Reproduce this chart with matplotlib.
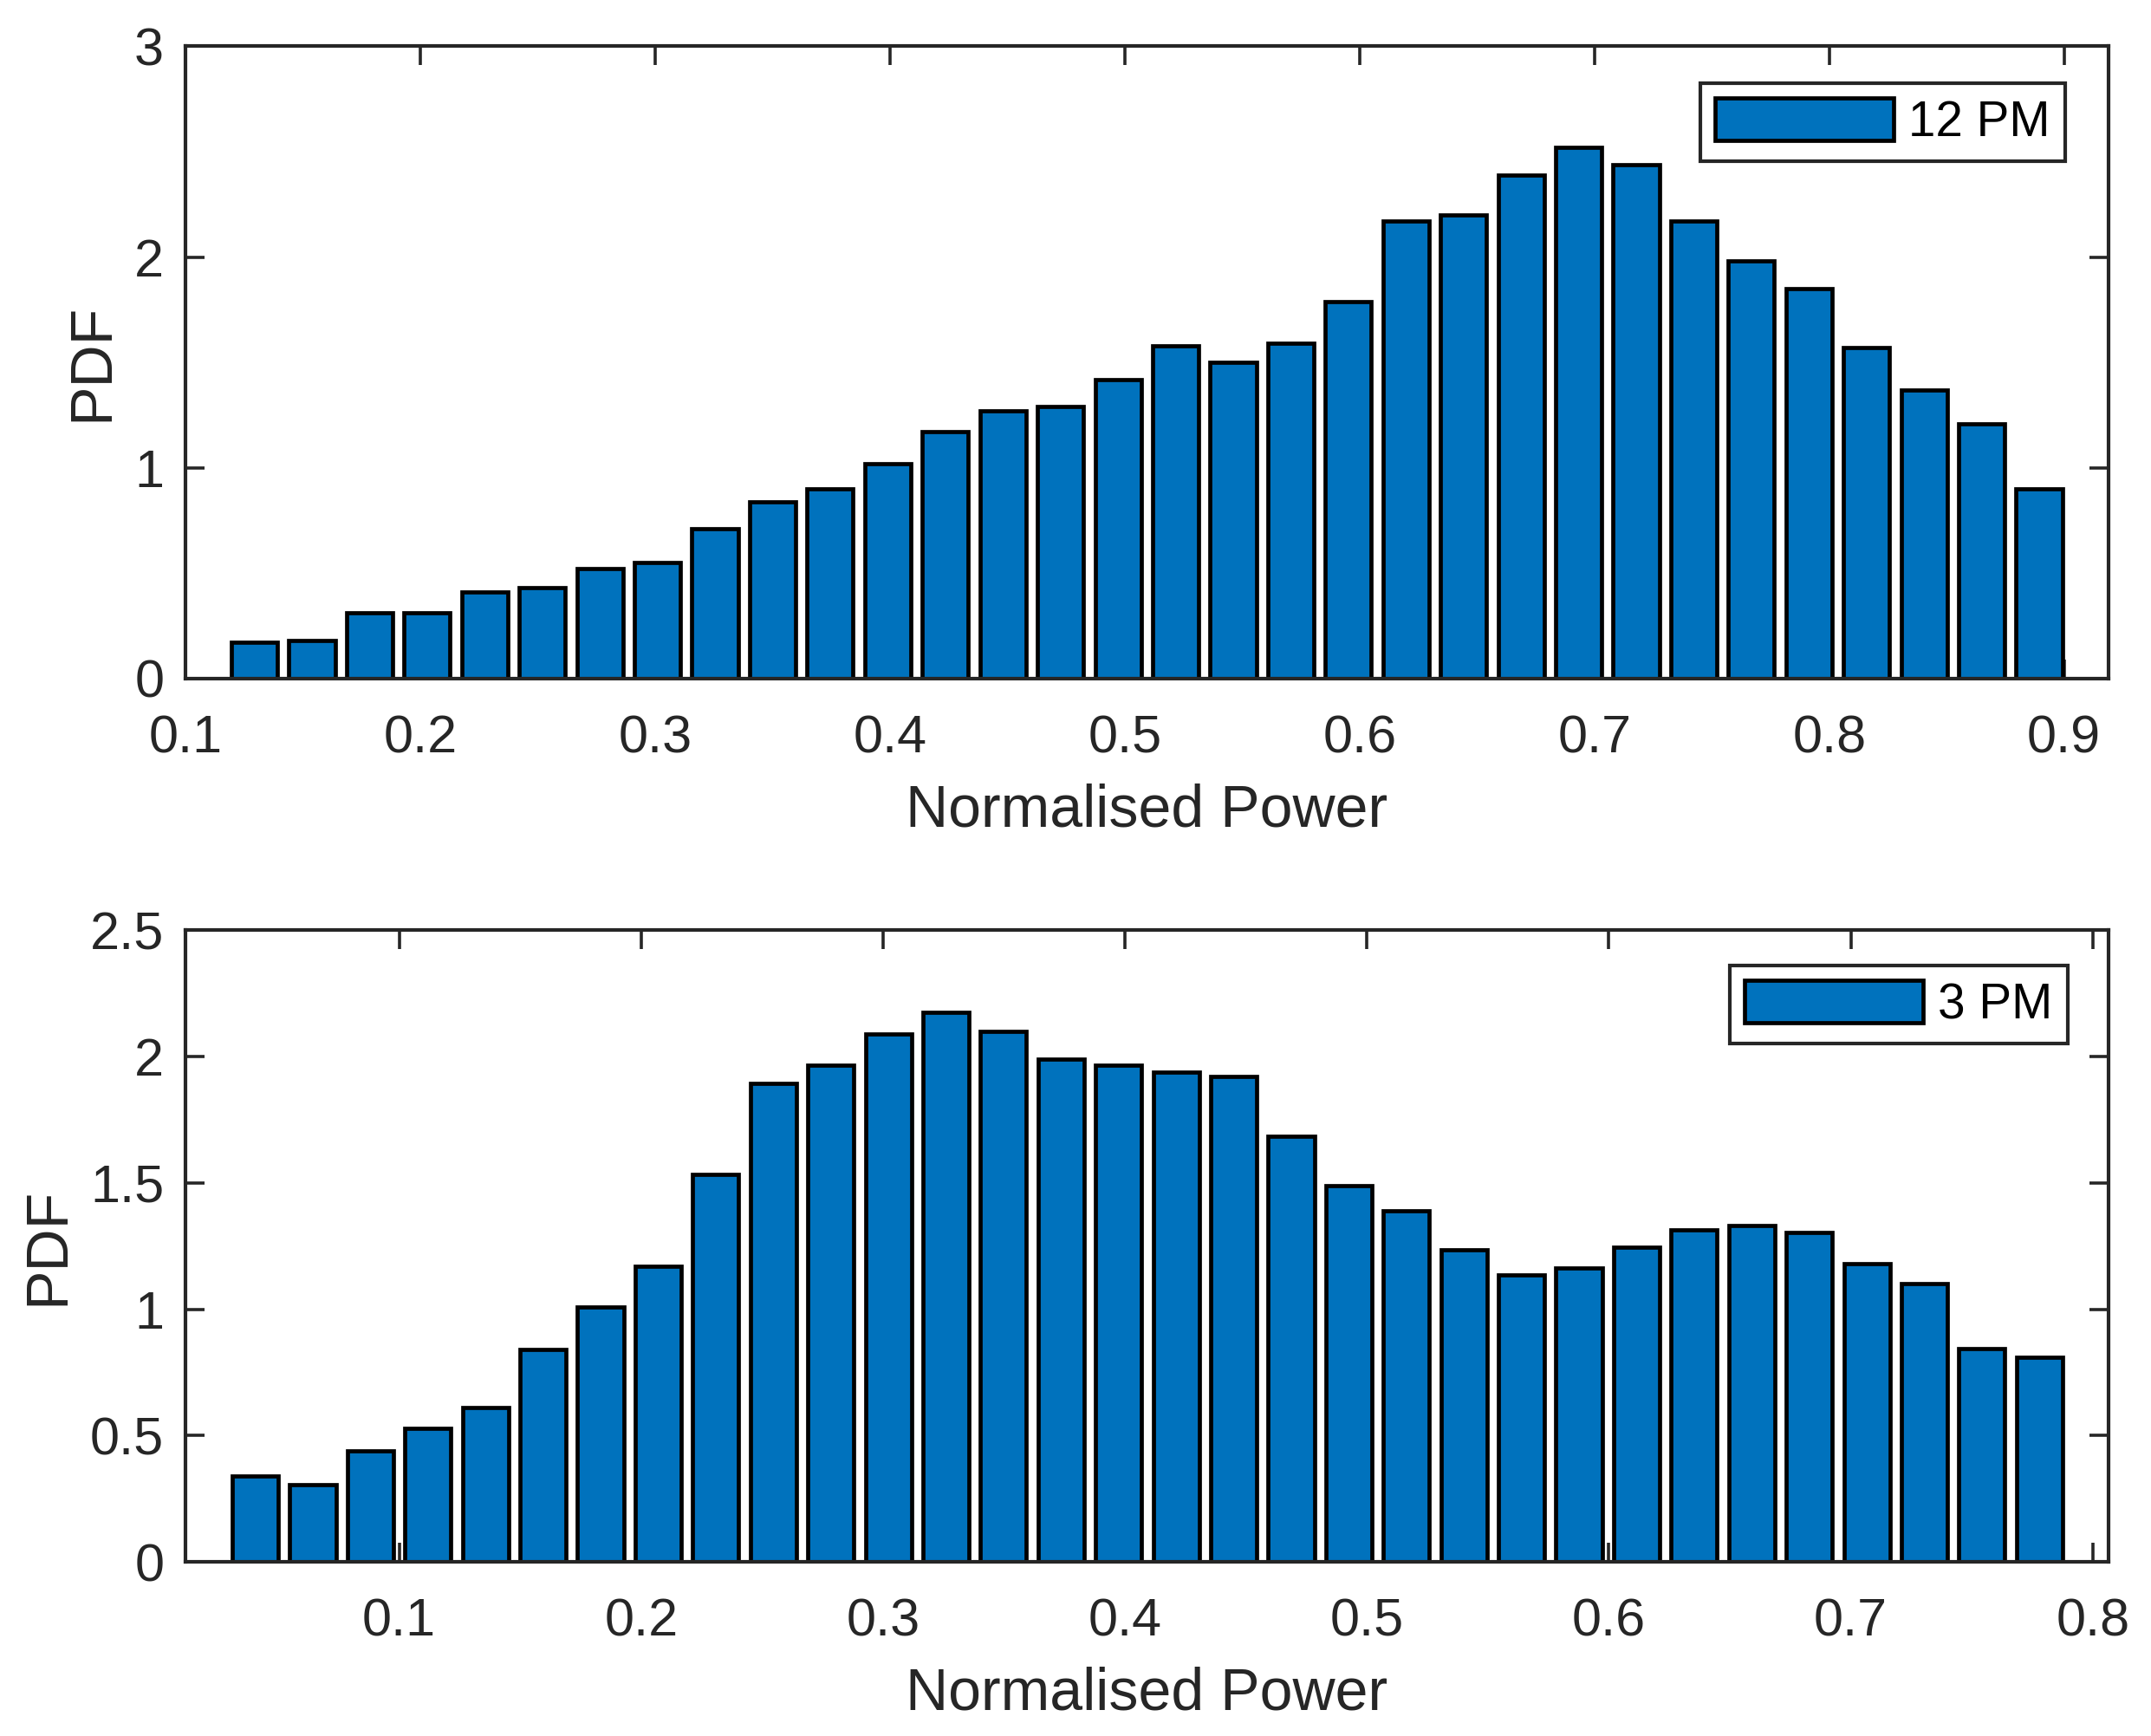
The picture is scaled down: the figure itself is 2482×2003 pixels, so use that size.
import matplotlib
matplotlib.use("Agg")
import matplotlib.pyplot as plt
import numpy as np

plt.rcParams['font.family'] = ['Liberation Sans', 'DejaVu Sans']

# ---- data ----
x_12pm_start = 0.1293
x_12pm_step = 0.02452
pdf_12pm = [0.17, 0.18, 0.31, 0.31, 0.41, 0.43, 0.52, 0.55, 0.71, 0.84,
            0.90, 1.02, 1.17, 1.27, 1.29, 1.42, 1.58, 1.50, 1.59, 1.79,
            2.17, 2.20, 2.39, 2.52, 2.44, 2.17, 1.98, 1.85, 1.57, 1.37,
            1.21, 0.90]

x_3pm_start = 0.0405
x_3pm_step = 0.02379
pdf_3pm = [0.34, 0.305, 0.44, 0.53, 0.61, 0.84, 1.01, 1.17, 1.535, 1.895,
           1.965, 2.09, 2.175, 2.10, 1.99, 1.965, 1.94, 1.92, 1.685, 1.49,
           1.39, 1.235, 1.135, 1.165, 1.245, 1.315, 1.33, 1.305, 1.18, 1.10,
           0.845, 0.81]

labels = ["12 PM", "3 PM"]
xlabel = "Normalised Power"
ylabel = "PDF"

x12 = x_12pm_start + x_12pm_step * np.arange(len(pdf_12pm))
x3 = x_3pm_start + x_3pm_step * np.arange(len(pdf_3pm))

BLUE = "#0072BD"
AX = "#262626"

fig = plt.figure(figsize=(12.41, 10.015), dpi=200)
ax1 = fig.add_axes([0.0863, 0.6092, 0.8938, 0.3641])
ax2 = fig.add_axes([0.0863, 0.1003, 0.8938, 0.3638])

def style(ax, xlim, ylim, xticks, yticks, ytl, leg_anchor, label, xs, ys, step):
    ax.bar(xs, ys, width=step * 0.8, color=BLUE, edgecolor="black",
           linewidth=1.7, label=label, zorder=2)
    ax.set_xlim(*xlim)
    ax.set_ylim(*ylim)
    ax.set_xticks(xticks)
    ax.set_xticklabels([f"{t:g}" for t in xticks])
    ax.set_yticks(yticks)
    ax.set_yticklabels(ytl)
    for s in ax.spines.values():
        s.set_color(AX)
        s.set_linewidth(1.5)
        s.set_zorder(3)
    ax.tick_params(direction="in", length=8, width=1.3, colors=AX,
                   top=True, right=True, labelsize=22, labelcolor=AX)
    ax.tick_params(axis="x", pad=15)
    ax.tick_params(axis="y", pad=9)
    ax.set_xlabel(xlabel, fontsize=24.5, color=AX, labelpad=8)
    ax.set_ylabel(ylabel, fontsize=24.5, color=AX, labelpad=6)
    leg = ax.legend(loc="upper right", bbox_to_anchor=leg_anchor,
                    borderaxespad=0, fancybox=False, framealpha=1,
                    edgecolor=AX, fontsize=20.4, handlelength=3.64,
                    handleheight=0.96, handletextpad=0.3, borderpad=0.3)
    leg.get_frame().set_linewidth(1.5)
    for t in leg.get_texts():
        t.set_color("black")

style(ax1, (0.1, 0.9188), (0, 3),
      [0.1, 0.2, 0.3, 0.4, 0.5, 0.6, 0.7, 0.8, 0.9],
      [0, 1, 2, 3], ["0", "1", "2", "3"],
      (0.9776, 0.9420), labels[0], x12, pdf_12pm, x_12pm_step)

style(ax2, (0.0117, 0.8064), (0, 2.5),
      [0.1, 0.2, 0.3, 0.4, 0.5, 0.6, 0.7, 0.8],
      [0, 0.5, 1, 1.5, 2, 2.5], ["0", "0.5", "1", "1.5", "2", "2.5"],
      (0.9788, 0.9440), labels[1], x3, pdf_3pm, x_3pm_step)

fig.savefig("out.png", dpi=200)
